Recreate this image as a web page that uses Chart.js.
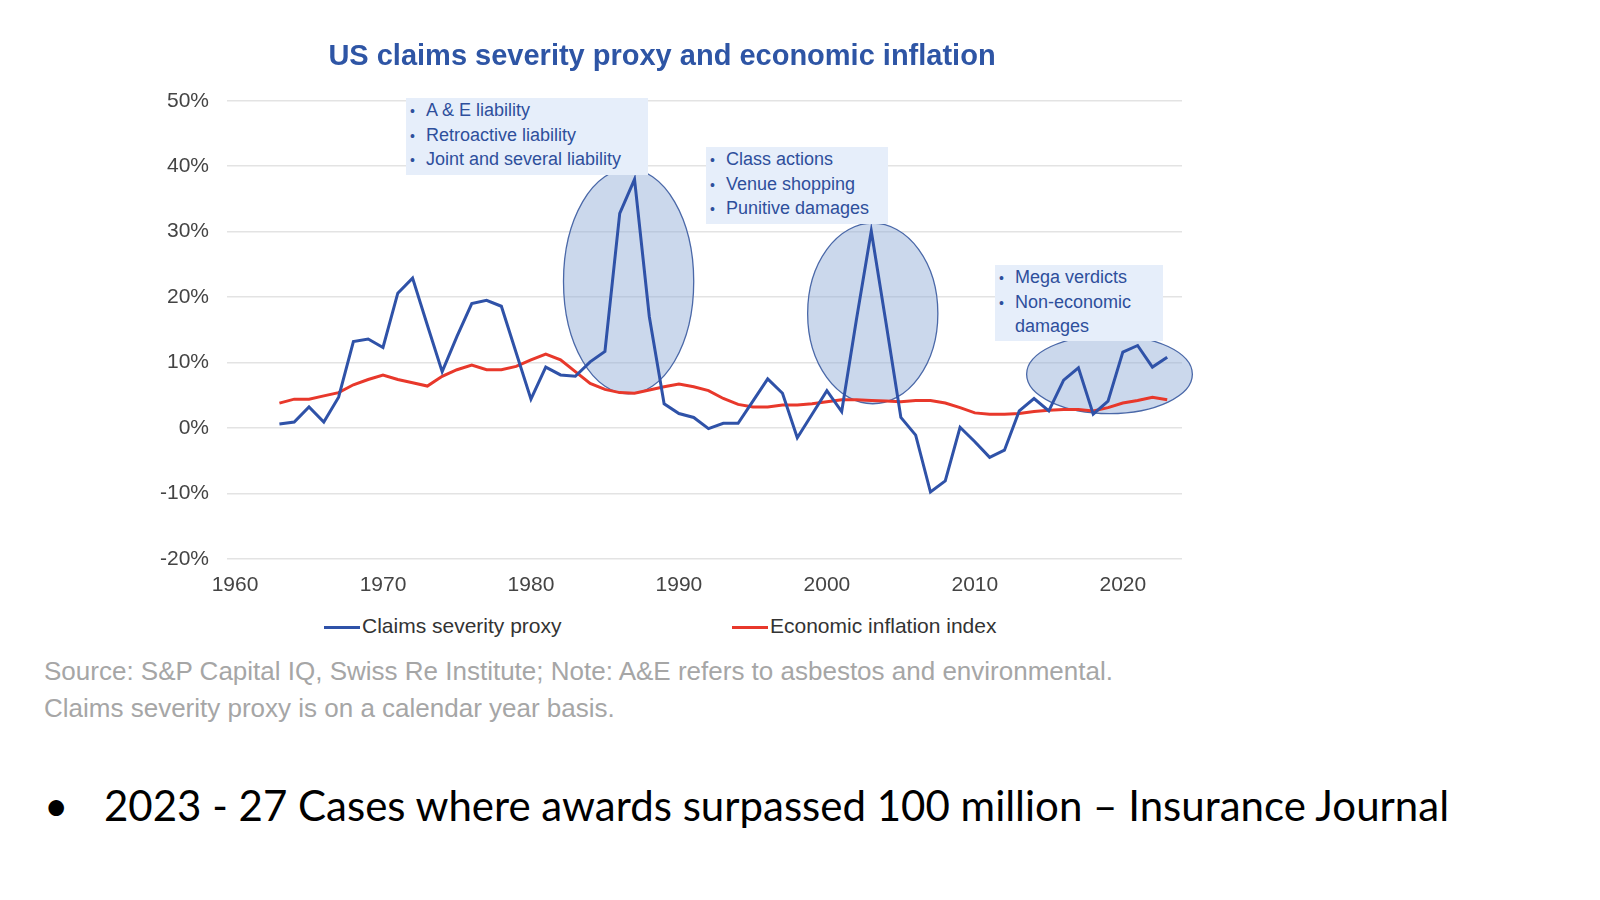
<!DOCTYPE html>
<html><head><meta charset="utf-8">
<script src="https://cdn.jsdelivr.net/npm/chart.js@4"></script>
<style>
body{margin:0;background:#fff;width:1600px;height:900px;overflow:hidden;font-family:"Liberation Sans",Arial,sans-serif;position:relative}
#wrap{position:absolute;left:142px;top:40px;width:1080px;height:564px}
.box{position:absolute;background:#e6eefa;color:#2e4f9c;font-size:18px;line-height:23.5px;padding:1px 6px 2px 4px}
.box div:before{content:"•";display:inline-block;width:16px;font-size:14px}
.src{position:absolute;left:44px;top:653px;color:#a6a6a6;font-size:26px;line-height:37px}
.bul{position:absolute;left:44px;top:780px;font-family:Lato,"Open Sans",sans-serif;font-size:42px;color:#000}
.leg{position:absolute;top:614px;font-size:21px;color:#333}
.leg span{display:inline-block;width:36px;height:3px;vertical-align:middle;margin-right:2px}
</style></head><body>
<div id="wrap"><canvas id="c"></canvas></div>
<div class="box" style="left:406px;top:98px;width:232px"><div>A &amp; E liability</div><div>Retroactive liability</div><div>Joint and several liability</div></div>
<div class="box" style="left:706px;top:147px;width:172px"><div>Class actions</div><div>Venue shopping</div><div>Punitive damages</div></div>
<div class="box" style="left:995px;top:265px;width:158px"><div>Mega verdicts</div><div>Non-economic<br><span style="padding-left:16px">damages</span></div></div>
<div class="leg" style="left:324px"><span style="background:#2f52a8"></span>Claims severity proxy</div>
<div class="leg" style="left:732px"><span style="background:#e8382b"></span>Economic inflation index</div>
<div class="src">Source: S&amp;P Capital IQ, Swiss Re Institute; Note: A&amp;E refers to asbestos and environmental.<br>Claims severity proxy is on a calendar year basis.</div>
<div class="bul"><span style="display:inline-block;width:60px">•</span>2023 - 27 Cases where awards surpassed 100 million – Insurance Journal</div>
<script>
const years=[];for(let y=1963;y<=2023;y++)years.push(y);
const claims=[0.6,0.9,3.2,0.9,4.7,13.2,13.6,12.3,20.6,22.9,15.7,8.6,14.0,19.0,19.5,18.6,11.5,4.4,9.3,8.1,7.9,10.1,11.7,32.8,38.0,17.0,3.7,2.2,1.6,-0.1,0.7,0.7,4.1,7.5,5.3,-1.5,2.1,5.7,2.5,16.6,30.1,16.0,1.6,-1.1,-9.8,-8.1,0.1,-2.1,-4.5,-3.4,2.6,4.5,2.6,7.3,9.2,2.1,4.1,11.6,12.6,9.3,10.8];
const inflation=[3.8,4.4,4.4,4.9,5.4,6.6,7.4,8.1,7.4,6.9,6.4,7.9,8.9,9.6,8.9,8.9,9.4,10.4,11.3,10.4,8.6,6.8,5.9,5.4,5.3,5.8,6.3,6.7,6.3,5.7,4.5,3.6,3.2,3.2,3.5,3.5,3.7,4.0,4.3,4.3,4.2,4.1,4.0,4.2,4.2,3.8,3.1,2.3,2.1,2.1,2.2,2.5,2.7,2.8,2.8,2.6,3.1,3.8,4.2,4.7,4.3];
const xTicks=[1960,1970,1980,1990,2000,2010,2020];
const yTicks=[-20,-10,0,10,20,30,40,50];
// ellipse annotations [centerYear, centerValue, radiusYears, radiusValue]
const ellipses=[[1986.6,22.4,4.4,17.2],[2003.1,17.5,4.4,13.8],[2019.1,8.2,5.6,6.0]];
const ell={id:'ell',beforeDatasetsDraw(ch){const {ctx,scales:{x,y}}=ch;ctx.save();
ellipses.forEach(e=>{const cx=x.getPixelForValue(e[0]),cy=y.getPixelForValue(e[1]);
const rx=Math.abs(x.getPixelForValue(e[0]+e[2])-cx),ry=Math.abs(y.getPixelForValue(e[1]+e[3])-cy);
ctx.beginPath();ctx.ellipse(cx,cy,rx,ry,0,0,Math.PI*2);ctx.fillStyle='rgba(140,168,212,0.45)';ctx.fill();ctx.strokeStyle='#4a68a8';ctx.lineWidth=1.3;ctx.stroke();});
ctx.restore();}};
new Chart(document.getElementById('c'),{type:'line',
data:{datasets:[
{label:'Claims severity proxy',data:years.map((y,i)=>({x:y,y:claims[i]})),borderColor:'#2f52a8',borderWidth:3,pointRadius:0,tension:0},
{label:'Economic inflation index',data:years.map((y,i)=>({x:y,y:inflation[i]})),borderColor:'#e8382b',borderWidth:3,pointRadius:0,tension:0}]},
options:{responsive:true,maintainAspectRatio:false,animation:false,
layout:{padding:{left:0,right:40,top:0,bottom:0}},
plugins:{title:{display:true,text:'US claims severity proxy and economic inflation',color:'#2e55a5',font:{size:29,weight:'bold',family:'Liberation Sans'},padding:{top:0,bottom:26}},
legend:{display:false},tooltip:{enabled:false}},
scales:{x:{type:'linear',min:1960,max:2024,afterBuildTicks:a=>{a.ticks=xTicks.map(v=>({value:v}))},grid:{display:false},border:{display:false},ticks:{color:'#444',font:{size:21,family:'Liberation Sans'},padding:6,callback:v=>String(v)}},
y:{min:-20,max:50,afterBuildTicks:a=>{a.ticks=yTicks.map(v=>({value:v}))},grid:{color:'#e3e3e3',lineWidth:1.5},border:{display:false},ticks:{color:'#444',font:{size:21,family:'Liberation Sans'},callback:v=>v+'%',padding:18}}}},
plugins:[ell]});
</script></body></html>
